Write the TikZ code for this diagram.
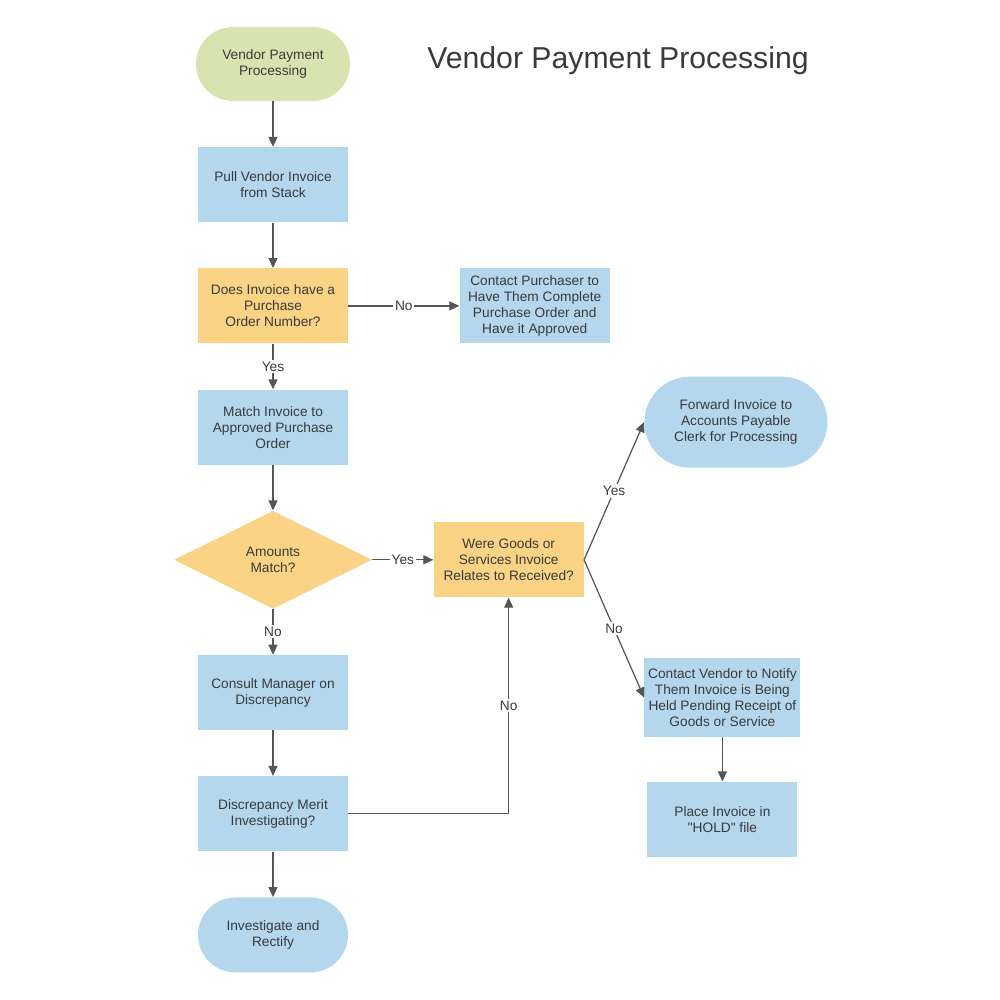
\documentclass[tikz,border=0pt]{standalone}
\usepackage{fontspec}
\setmainfont{Liberation Sans}
\newfontfamily\plainsans{Liberation Sans}
\usepackage{tikz}
\usepackage{xcolor}
\usetikzlibrary{positioning,arrows.meta,shapes.geometric}
\definecolor{startgreen}{HTML}{D9E3B0}
\definecolor{procblue}{HTML}{B4D7EE}
\definecolor{askorange}{HTML}{FAD385}
\definecolor{textgrey}{HTML}{3A3A3A}
\definecolor{linegrey}{HTML}{555555}
\tikzset{
  box/.style={
    align=center, inner sep=2pt, text=textgrey,
    font=\plainsans\fontsize{7.8}{9.1}\selectfont, minimum width=30mm, minimum height=15mm,
  },
  proc/.style ={box, fill=procblue},
  ask/.style  ={box, fill=askorange},
  term/.style ={box, fill=procblue, rounded corners=7.5mm},
  decide/.style={box, diamond, fill=askorange, inner sep=0pt,
    minimum width=39.6mm, minimum height=19.6mm},
  flow/.style ={-{Triangle[length=2mm, width=1.8mm]}, draw=linegrey, line width=0.7pt},
  lbl/.style  ={font=\plainsans\fontsize{7.8}{9.1}\selectfont, text=textgrey, fill=white, inner sep=1pt},
  title/.style={font=\plainsans\fontsize{17.2}{20}\selectfont, text=textgrey},
}
\begin{document}
\begin{tikzpicture}[x=0.2mm, y=-0.2mm, node distance=9.1mm]
\useasboundingbox (0,0) rectangle (1000,1000);

% Title
\node[title] (title) at (618,61) {Vendor Payment Processing};

% Main column
\node[term, fill=startgreen, minimum width=30.8mm, minimum height=14.8mm, rounded corners=7.4mm] (start) at (273,64)
  {Vendor Payment\\Processing};
\node[proc, below=of start] (pull) {Pull Vendor Invoice\\from Stack};
\node[ask, below=of pull] (hasPO) {Does Invoice have a\\Purchase\\Order Number?};
\node[proc, below=of hasPO] (match) {Match Invoice to\\Approved Purchase\\Order};
\node[decide, below=of match] (amounts) {Amounts\\Match?};
\node[proc, below=of amounts] (consult) {Consult Manager on\\Discrepancy};
\node[proc, below=of consult] (merit) {Discrepancy Merit\\Investigating?};
\node[term, below=of merit] (rectify) {Investigate and\\Rectify};

% Side branches
\node[proc, right=22.2mm of hasPO] (contactP) {Contact Purchaser to\\Have Them Complete\\Purchase Order and\\Have it Approved};
\node[ask, right=12.2mm of amounts] (received) {Were Goods or\\Services Invoice\\Relates to Received?};
\node[term, above right=10.8mm and 12mm of received, minimum width=36.6mm, minimum height=18.2mm, rounded corners=9.1mm] (forward)
  {Forward Invoice to\\Accounts Payable\\Clerk for Processing};
\node[proc, below right=12mm and 12mm of received, minimum width=31.2mm, minimum height=15.8mm] (contactV)
  {Contact Vendor to Notify\\Them Invoice is Being\\Held Pending Receipt of\\Goods or Service};
\node[proc, below=8.8mm of contactV] (hold) {Place Invoice in\\"HOLD" file};

% Edges
\draw[flow] (start) -- (pull);
\draw[flow] (pull) -- (hasPO);
\draw[flow] (hasPO) -- node[lbl] {Yes} (match);
\draw[flow] (hasPO) -- node[lbl] {No} (contactP);
\draw[flow] (match) -- (amounts);
\draw[flow] (amounts) -- node[lbl] {Yes} (received);
\draw[flow] (amounts) -- node[lbl] {No} (consult);
\draw[flow] (consult) -- (merit);
\draw[flow] (merit) -- (rectify);
\draw[flow] (merit.east) -| node[lbl, pos=0.75] {No} (received.south);
\draw[flow] (received.east) -- node[lbl] {Yes} (forward.west);
\draw[flow] (received.east) -- node[lbl] {No} (contactV.west);
\draw[flow] (contactV) -- (hold);

\end{tikzpicture}
\end{document}
